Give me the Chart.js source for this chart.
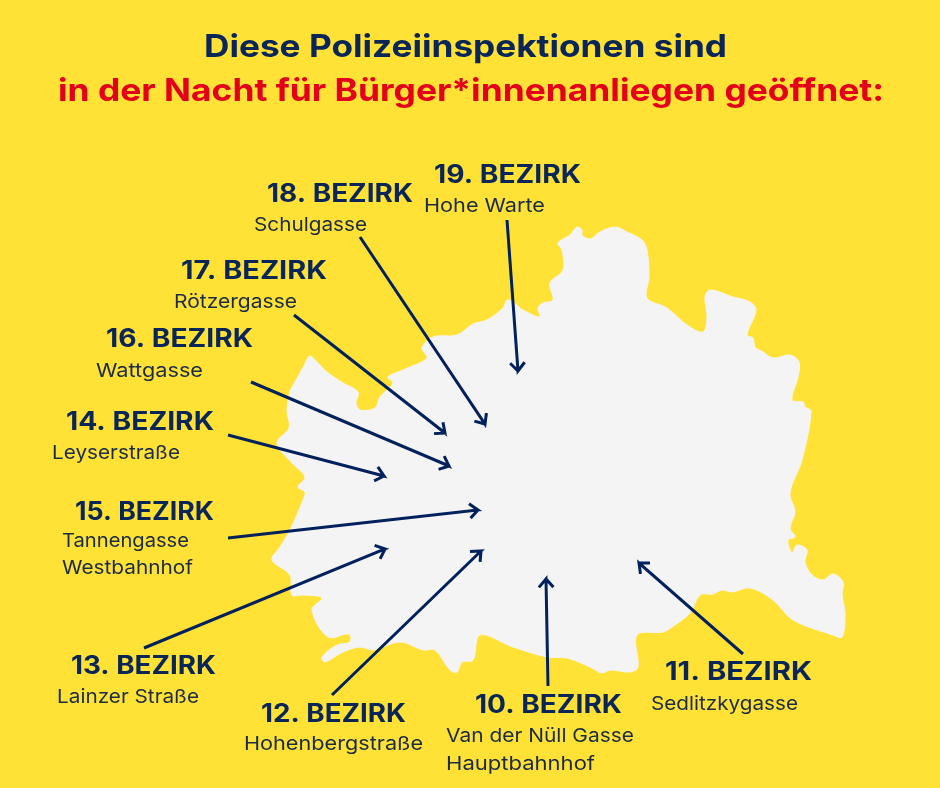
<!DOCTYPE html>
<html lang="de">
<head>
<meta charset="utf-8">
<title>Polizeiinspektionen</title>
<script src="https://cdn.jsdelivr.net/npm/chart.js@4"></script>
<style>
  html, body { margin: 0; padding: 0; background: #FFE235; }
  canvas { display: block; }
</style>
</head>
<body>
<canvas id="mapChart" width="940" height="788"></canvas>
<script>
// Outline of the city, clockwise, on a 940x788 grid
const outlineX = [305,310,317,327,343,358,356,360,375,380,393,388,403,427,422,433,457,473,487,503,507,513,523,540,538,543,553,550,563,562,558,570,577,582,582,590,600,615,627,642,647,649,647,667,687,703,707,705,710,733,750,756,747,753,755,763,773,790,799,798,792,803,805,811,802,790,795,790,795,788,792,797,807,805,812,823,833,843,842,845,842,833,793,773,750,732,722,713,700,690,672,663,637,638,630,610,602,590,567,547,513,480,473,462,457,450,435,423,400,373,360,343,325,322,337,350,349,328,312,322,303,292,290,272,280,290,303,305,298,305,292,277,289,287,290];
const outlineY = [363,356,362,372,383,392,403,410,408,397,383,377,370,358,348,337,335,324,320,308,300,302,310,317,308,303,300,283,270,250,243,235,227,230,235,239,232,227,232,240,250,277,298,308,325,332,317,297,290,297,302,310,335,338,347,352,358,355,362,377,400,402,407,411,460,493,512,528,537,540,553,545,550,562,575,580,574,582,595,613,637,635,620,600,588,592,590,594,595,613,627,632,635,667,672,670,673,667,658,657,647,635,660,662,672,670,650,650,642,650,647,652,662,657,645,642,634,637,610,598,595,595,575,560,547,530,500,492,487,477,463,443,428,410,390];

// Arrows, tail to tip
const arrowFromX = [507,360,294,251,228,228,144,332,548,743];
const arrowFromY = [220,237,315,382,435,538,648,695,686,654];
const arrowToX = [518,485,445,449,384,478,385,481,546,639];
const arrowToY = [371,424,433,466,476,510,549,551,579,563];

const titleLines = ['Diese Polizeiinspektionen sind', 'in der Nacht für Bürger*innenanliegen geöffnet:'];
const titleX = [204, 58];
const titleRight = [727, 884];
const titleY = [57, 101];

const districts = ['19. BEZIRK','18. BEZIRK','17. BEZIRK','16. BEZIRK','14. BEZIRK','15. BEZIRK','13. BEZIRK','12. BEZIRK','10. BEZIRK','11. BEZIRK'];
const districtX = [434,267,181,106,66,75,71,261,475,665];
const districtRight = [581,413,327,253,214,214,216,406,622,812];
const districtY = [183,202,279,347,430,520,674,722,713,680];

const stations = ['Hohe Warte','Schulgasse','Rötzergasse','Wattgasse','Leyserstraße','Tannengasse','Westbahnhof','Lainzer Straße','Hohenbergstraße','Van der Nüll Gasse','Hauptbahnhof','Sedlitzkygasse'];
const stationX = [424,254,174,96,52,62,62,57,244,446,446,651];
const stationRight = [545,367,297,203,180,189,193,199,423,634,595,798];
const stationY = [212,231,308,377,459,547,574,703,750,742,770,710];

const NAVY = '#01215C';
const BARB = 11;

function arrowPath(i) {
    const tx = arrowToX[i], ty = arrowToY[i];
    const angle = Math.atan2(ty - arrowFromY[i], tx - arrowFromX[i]);
    const barb = a => ({ x: tx - BARB * Math.cos(angle + a), y: ty - BARB * Math.sin(angle + a) });
    return [{ x: arrowFromX[i], y: arrowFromY[i] }, { x: tx, y: ty }, barb(0.72), { x: tx, y: ty }, barb(-0.72)];
}

// Draw a text so it runs from left to right, stretching the glyphs a little
function fitText(ctx, text, left, right, y) {
    const stretch = (right - left) / ctx.measureText(text).width;
    ctx.save();
    ctx.translate(left, y);
    ctx.scale(stretch, 1);
    ctx.fillText(text, 0, 0);
    ctx.restore();
}

const textPlugin = {
    id: 'textPlugin',
    afterDatasetsDraw(chart) {
        const { ctx, scales: { x, y } } = chart;
        ctx.save();
        ctx.textBaseline = 'alphabetic';
        ctx.textAlign = 'left';

        ctx.font = '700 31.5px Inter';
        titleLines.forEach((t, i) => {
            ctx.fillStyle = i === 0 ? '#0A2558' : '#E2001A';
            fitText(ctx, t, x.getPixelForValue(titleX[i]), x.getPixelForValue(titleRight[i]), y.getPixelForValue(titleY[i]));
        });

        ctx.font = '700 25px Inter';
        ctx.fillStyle = '#0A2558';
        districts.forEach((t, i) => {
            fitText(ctx, t, x.getPixelForValue(districtX[i]), x.getPixelForValue(districtRight[i]), y.getPixelForValue(districtY[i]));
        });

        ctx.font = '400 19px Inter';
        ctx.fillStyle = '#1B2B45';
        stations.forEach((t, i) => {
            fitText(ctx, t, x.getPixelForValue(stationX[i]), x.getPixelForValue(stationRight[i]), y.getPixelForValue(stationY[i]));
        });
        ctx.restore();
    }
};

const datasets = [{
    label: 'Wien',
    data: outlineX.map((v, i) => ({ x: v, y: outlineY[i] })),
    order: 10,
    showLine: true,
    fill: 'shape',
    tension: 0.35,
    backgroundColor: '#F5F4F4',
    borderColor: '#F5F4F4',
    borderWidth: 1,
    pointRadius: 0
}];

arrowFromX.forEach((_, i) => {
    datasets.push({
        label: districts[i],
        data: arrowPath(i),
        order: 1,
        showLine: true,
        fill: false,
        tension: 0,
        borderColor: NAVY,
        borderWidth: 3,
        borderCapStyle: 'butt',
        borderJoinStyle: 'miter',
        pointRadius: 0
    });
});

new Chart(document.getElementById('mapChart').getContext('2d'), {
    type: 'scatter',
    data: { datasets },
    plugins: [textPlugin],
    options: {
        responsive: false,
        animation: false,
        layout: { padding: 0 },
        plugins: { legend: { display: false }, tooltip: { enabled: false } },
        scales: {
            x: { type: 'linear', min: 0, max: 940, display: false },
            y: { type: 'linear', min: 0, max: 788, reverse: true, display: false }
        }
    }
});
</script>
</body>
</html>
